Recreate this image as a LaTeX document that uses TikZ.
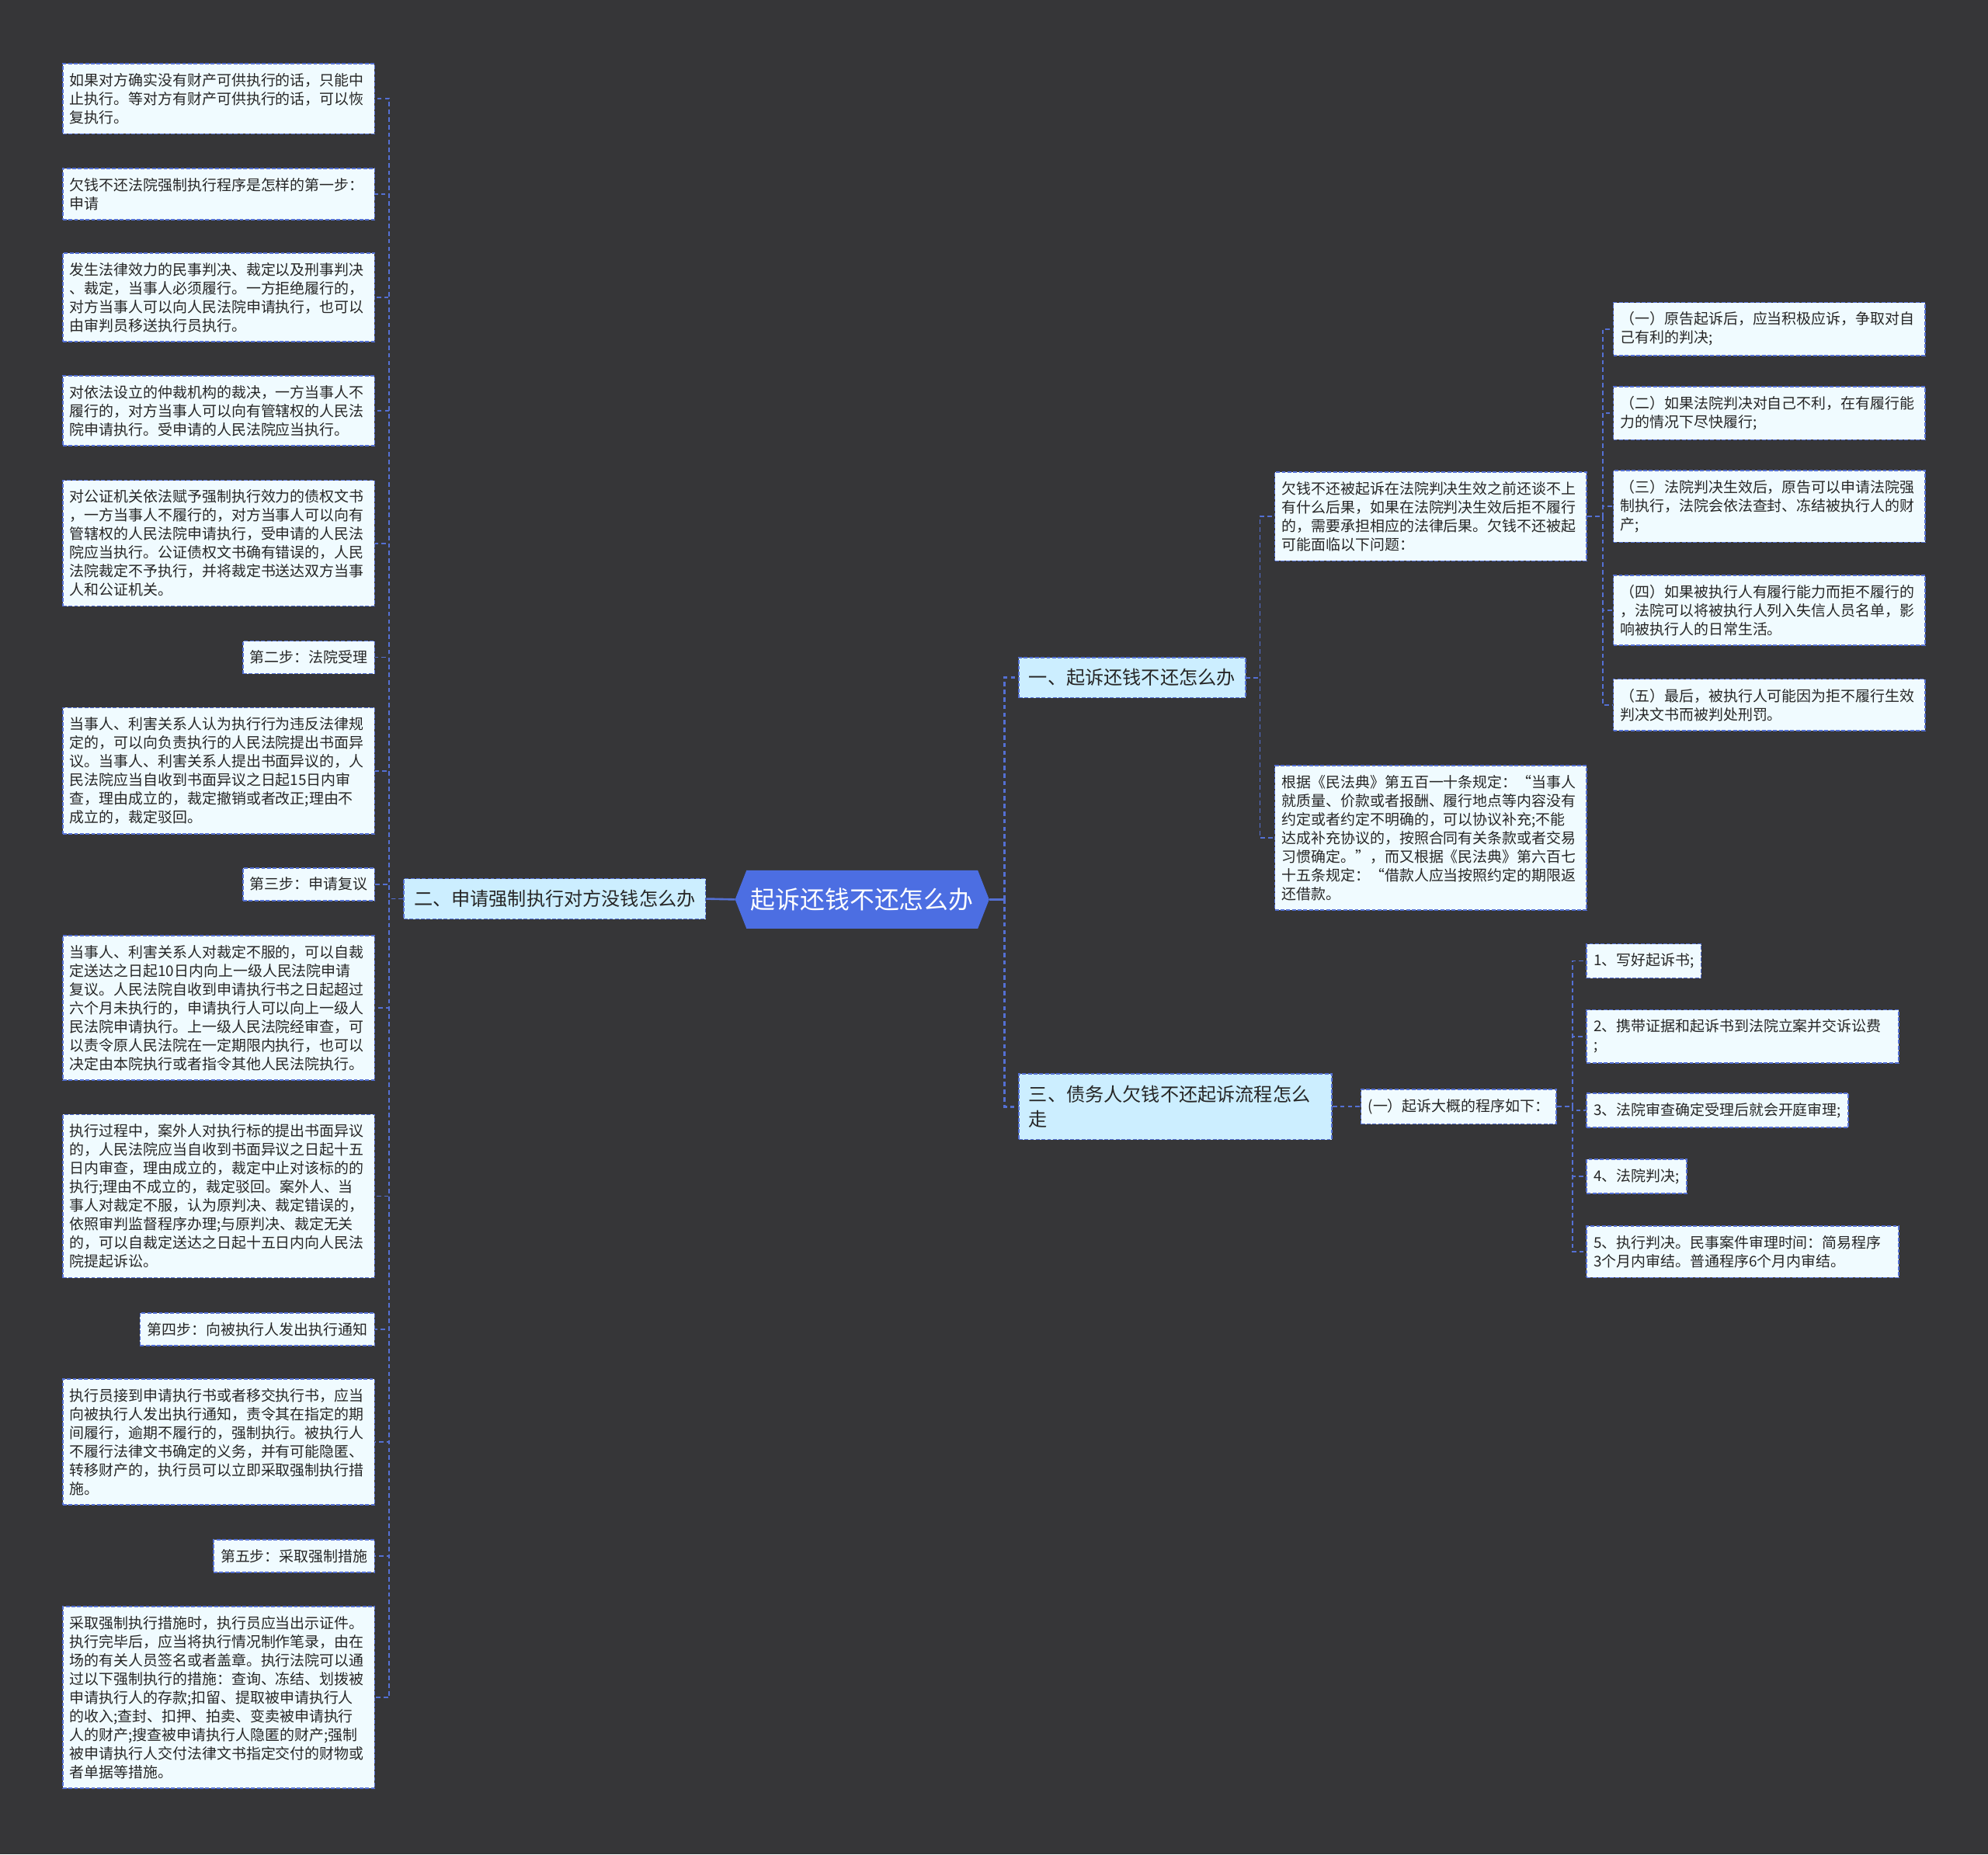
\documentclass[tikz,border=0pt]{standalone}
\usepackage{fontspec}
\setmainfont{Noto Sans CJK SC}
\usetikzlibrary{positioning,backgrounds}
\definecolor{bgdark}{RGB}{54,54,56}
\definecolor{linkblue}{RGB}{84,112,212}
\definecolor{boxfill}{RGB}{240,251,255}
\definecolor{topicfill}{RGB}{204,238,255}
\definecolor{rootfill}{RGB}{76,110,226}
\tikzset{
  leaf/.style={draw=linkblue, dash pattern=on 3pt off 1.5pt, line width=1pt, fill=boxfill,
    inner xsep=5.5pt, inner ysep=7.5pt, align=left, text=black!85,
    font=\fontsize{11.6}{14.7}\selectfont},
  wide/.style={text width=235pt},
  topic/.style={leaf, fill=topicfill, inner xsep=8pt, inner ysep=9pt,
    font=\fontsize{14.8}{20}\selectfont},
  link/.style={linkblue, line width=1.1pt, dash pattern=on 3.5pt off 2.5pt},
  mainlink/.style={link, line width=1.6pt},
  stub/.style={linkblue, line width=1.6pt},
}
\begin{document}
\begin{tikzpicture}[x=1pt,y=-1pt]
\node[text=white, inner xsep=3.25pt, inner ysep=13.75pt, font=\fontsize{19.5}{22}\selectfont] (root) at (680,709.5) {起诉还钱不还怎么办};
\coordinate (rootW) at ([xshift=-9pt]root.west);
\coordinate (rootE) at ([xshift=9pt]root.east);
\begin{scope}[on background layer]
\fill[bgdark] (0,0) rectangle (1568,1462.65);
\fill[rootfill] (rootW) -- (root.north west) -- (root.north east) -- (rootE) -- (root.south east) -- (root.south west) -- cycle;
\end{scope}

\node[topic,anchor=east] (er) at (557,709) {二、申请强制执行对方没钱怎么办};
\node[topic,anchor=west] (yi) at (803,534.5) {一、起诉还钱不还怎么办};
\node[topic,anchor=west,text width=231pt] (san) at (803,873) {三、债务人欠钱不还起诉流程怎么\\走};

\node[leaf,wide,anchor=east] (l1) at (296,78) {如果对方确实没有财产可供执行的话，只能中\\止执行。等对方有财产可供执行的话，可以恢\\复执行。};
\node[leaf,wide,anchor=east] (l2) at (296,153) {欠钱不还法院强制执行程序是怎样的第一步：\\申请};
\node[leaf,wide,anchor=east] (l3) at (296,234.5) {发生法律效力的民事判决、裁定以及刑事判决\\、裁定，当事人必须履行。一方拒绝履行的，\\对方当事人可以向人民法院申请执行，也可以\\由审判员移送执行员执行。};
\node[leaf,wide,anchor=east] (l4) at (296,324) {对依法设立的仲裁机构的裁决，一方当事人不\\履行的，对方当事人可以向有管辖权的人民法\\院申请执行。受申请的人民法院应当执行。};
\node[leaf,wide,anchor=east] (l5) at (296,428.5) {对公证机关依法赋予强制执行效力的债权文书\\，一方当事人不履行的，对方当事人可以向有\\管辖权的人民法院申请执行，受申请的人民法\\院应当执行。公证债权文书确有错误的，人民\\法院裁定不予执行，并将裁定书送达双方当事\\人和公证机关。};
\node[leaf,anchor=east] (l6) at (296,518.5) {第二步：法院受理};
\node[leaf,wide,anchor=east] (l7) at (296,608) {当事人、利害关系人认为执行行为违反法律规\\定的，可以向负责执行的人民法院提出书面异\\议。当事人、利害关系人提出书面异议的，人\\民法院应当自收到书面异议之日起15日内审\\查，理由成立的，裁定撤销或者改正;理由不\\成立的，裁定驳回。};
\node[leaf,anchor=east] (l8) at (296,697.5) {第三步：申请复议};
\node[leaf,wide,anchor=east] (l9) at (296,795) {当事人、利害关系人对裁定不服的，可以自裁\\定送达之日起10日内向上一级人民法院申请\\复议。人民法院自收到申请执行书之日起超过\\六个月未执行的，申请执行人可以向上一级人\\民法院申请执行。上一级人民法院经审查，可\\以责令原人民法院在一定期限内执行，也可以\\决定由本院执行或者指令其他人民法院执行。};
\node[leaf,wide,anchor=east] (l10) at (296,943.5) {执行过程中，案外人对执行标的提出书面异议\\的，人民法院应当自收到书面异议之日起十五\\日内审查，理由成立的，裁定中止对该标的的\\执行;理由不成立的，裁定驳回。案外人、当\\事人对裁定不服，认为原判决、裁定错误的，\\依照审判监督程序办理;与原判决、裁定无关\\的，可以自裁定送达之日起十五日内向人民法\\院提起诉讼。};
\node[leaf,anchor=east] (l11) at (296,1048.5) {第四步：向被执行人发出执行通知};
\node[leaf,wide,anchor=east] (l12) at (296,1137.5) {执行员接到申请执行书或者移交执行书，应当\\向被执行人发出执行通知，责令其在指定的期\\间履行，逾期不履行的，强制执行。被执行人\\不履行法律文书确定的义务，并有可能隐匿、\\转移财产的，执行员可以立即采取强制执行措\\施。};
\node[leaf,anchor=east] (l13) at (296,1227.5) {第五步：采取强制措施};
\node[leaf,wide,anchor=east] (l14) at (296,1339) {采取强制执行措施时，执行员应当出示证件。\\执行完毕后，应当将执行情况制作笔录，由在\\场的有关人员签名或者盖章。执行法院可以通\\过以下强制执行的措施：查询、冻结、划拨被\\申请执行人的存款;扣留、提取被申请执行人\\的收入;查封、扣押、拍卖、变卖被申请执行\\人的财产;搜查被申请执行人隐匿的财产;强制\\被申请执行人交付法律文书指定交付的财物或\\者单据等措施。};

\node[leaf,wide,anchor=west] (r1) at (1005,407.5) {欠钱不还被起诉在法院判决生效之前还谈不上\\有什么后果，如果在法院判决生效后拒不履行\\的，需要承担相应的法律后果。欠钱不还被起\\可能面临以下问题：};
\node[leaf,wide,anchor=west] (r2) at (1005,661) {根据《民法典》第五百一十条规定：“当事人\\就质量、价款或者报酬、履行地点等内容没有\\约定或者约定不明确的，可以协议补充;不能\\达成补充协议的，按照合同有关条款或者交易\\习惯确定。”，而又根据《民法典》第六百七\\十五条规定：“借款人应当按照约定的期限返\\还借款。};

\node[leaf,wide,anchor=west] (ya) at (1272,259.5) {（一）原告起诉后，应当积极应诉，争取对自\\己有利的判决;};
\node[leaf,wide,anchor=west] (yb) at (1272,326) {（二）如果法院判决对自己不利，在有履行能\\力的情况下尽快履行;};
\node[leaf,wide,anchor=west] (yc) at (1272,399.5) {（三）法院判决生效后，原告可以申请法院强\\制执行，法院会依法查封、冻结被执行人的财\\产;};
\node[leaf,wide,anchor=west] (yd) at (1272,481.5) {（四）如果被执行人有履行能力而拒不履行的\\，法院可以将被执行人列入失信人员名单，影\\响被执行人的日常生活。};
\node[leaf,wide,anchor=west] (ye) at (1272,556) {（五）最后，被执行人可能因为拒不履行生效\\判决文书而被判处刑罚。};

\node[leaf,anchor=west] (sq) at (1073,873) {(一）起诉大概的程序如下：};
\node[leaf,anchor=west] (s1) at (1251,758) {1、写好起诉书;};
\node[leaf,wide,anchor=west] (s2) at (1251,817.5) {2、携带证据和起诉书到法院立案并交诉讼费\\;};
\node[leaf,anchor=west] (s3) at (1251,876) {3、法院审查确定受理后就会开庭审理;};
\node[leaf,anchor=west] (s4) at (1251,928) {4、法院判决;};
\node[leaf,wide,anchor=west] (s5) at (1251,987.5) {5、执行判决。民事案件审理时间：简易程序\\3个月内审结。普通程序6个月内审结。};

\draw[stub] (er.east) -- (rootW);
\draw[stub] (rootE) -- ++(12,0);
\foreach \n in {l1,l2,l3,l4,l5,l6,l7,l8,l9,l10,l11,l12,l13,l14}
  \draw[link] (er.west) -- ++(-11,0) |- (\n.east);
\foreach \n in {yi,san}
  \draw[mainlink] (rootE) ++(12,0) |- (\n.west);
\foreach \n in {r1,r2}
  \draw[link] (yi.east) -- ++(11,0) |- (\n.west);
\foreach \n in {ya,yb,yc,yd,ye}
  \draw[link] (r1.east) -- ++(12,0) |- (\n.west);
\draw[link] (san.east) -- (sq.west);
\foreach \n in {s1,s2,s3,s4,s5}
  \draw[link] (sq.east) -- ++(12,0) |- (\n.west);
\end{tikzpicture}
\end{document}
